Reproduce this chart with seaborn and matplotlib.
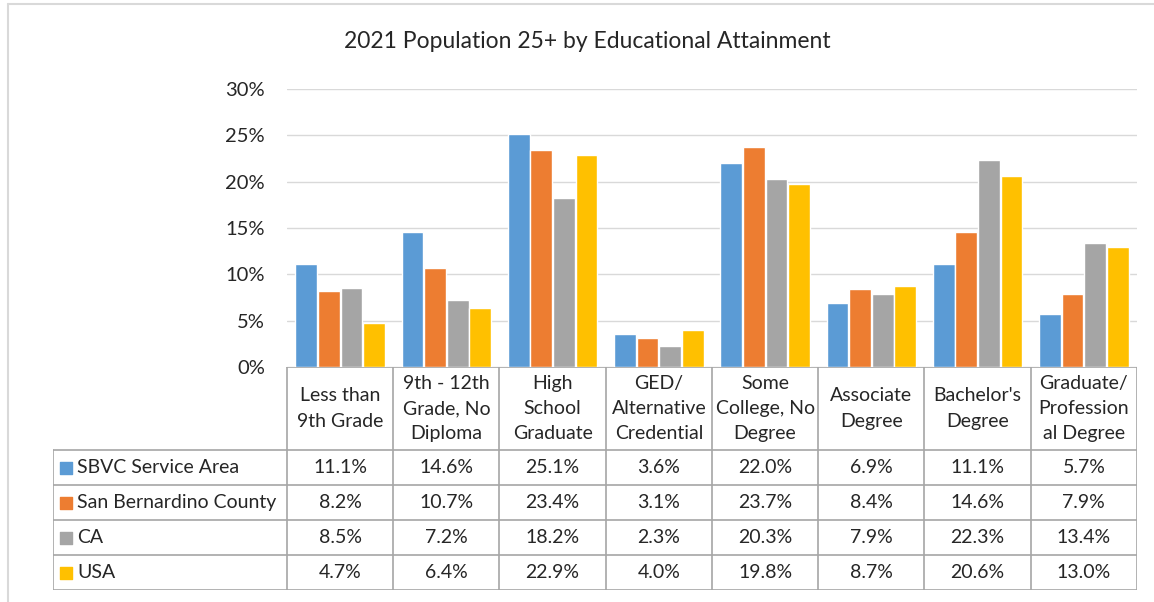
import pandas as pd
import seaborn as sns
import matplotlib.pyplot as plt
from matplotlib.ticker import PercentFormatter

categories = [
    "Less than\n9th Grade",
    "9th - 12th\nGrade, No\nDiploma",
    "High\nSchool\nGraduate",
    "GED/\nAlternative\nCredential",
    "Some\nCollege, No\nDegree",
    "Associate\nDegree",
    "Bachelor's\nDegree",
    "Graduate/\nProfession\nal Degree",
]
series = ["SBVC Service Area", "San Bernardino County", "CA", "USA"]
sbvc = [11.1, 14.6, 25.1, 3.6, 22.0, 6.9, 11.1, 5.7]
sb_county = [8.2, 10.7, 23.4, 3.1, 23.7, 8.4, 14.6, 7.9]
ca = [8.5, 7.2, 18.2, 2.3, 20.3, 7.9, 22.3, 13.4]
usa = [4.7, 6.4, 22.9, 4.0, 19.8, 8.7, 20.6, 13.0]
colors = ["#5B9BD5", "#ED7D31", "#A5A5A5", "#FFC000"]

values = [sbvc, sb_county, ca, usa]
rows = []
for s, vals in zip(series, values):
    for c, v in zip(categories, vals):
        rows.append({"category": c, "series": s, "value": v})
df = pd.DataFrame(rows)

sns.set_style("white")
plt.rcParams["font.family"] = ["Lato", "DejaVu Sans"]

W, H = 1154, 602
fig = plt.figure(figsize=(W / 100, H / 100), dpi=100)

# outer chart frame (partly cropped in the original)
fig.add_artist(plt.Line2D([8 / W, 1], [1 - 4 / H, 1 - 4 / H], color="#D9D9D9", lw=1.5))
fig.add_artist(plt.Line2D([8 / W, 8 / W], [0, 1 - 4 / H], color="#D9D9D9", lw=1.5))

# plot area
x0, x1, y_top, y_zero = 287, 1137, 89, 367
ax = fig.add_axes([x0 / W, 1 - y_zero / H, (x1 - x0) / W, (y_zero - y_top) / H])
sns.barplot(data=df, x="category", y="value", hue="series", palette=colors,
            width=0.85, gap=0.04, legend=False, ax=ax, saturation=1)
ax.set_ylim(0, 30)
ax.set_xlim(-0.5, len(categories) - 0.5)
ax.set_yticks(range(0, 31, 5))
ax.yaxis.set_major_formatter(PercentFormatter(decimals=0))
ax.yaxis.grid(True, color="#D9D9D9", lw=1)
ax.set_axisbelow(True)
ax.tick_params(axis="x", labelbottom=False, length=0)
ax.tick_params(axis="y", length=0, labelsize=14.5, pad=16)
ax.set_xlabel("")
ax.set_ylabel("")
sns.despine(ax=ax, left=True, bottom=True)
fig.text(587 / W, 1 - 42 / H, "2021 Population 25+ by Educational Attainment",
         ha="center", va="center", fontsize=16.5)

# data table below the plot
t_left, t_bottom = 53, 590
unit = (x1 - x0) / len(categories)


def px_x(px):
    return -0.5 + (px - x0) / unit


tx = fig.add_axes([t_left / W, 1 - t_bottom / H, (x1 - t_left) / W, (t_bottom - y_zero) / H])
tx.set_xlim(px_x(t_left), len(categories) - 0.5)
tx.set_ylim(0, t_bottom - y_zero)
tx.axis("off")
line_kw = dict(color="#A6A6A6", lw=1.2)
row_h = 35
top = t_bottom - y_zero
tx.plot([-0.5, len(categories) - 0.5], [top, top], **line_kw)
for k in range(5):
    y = k * row_h
    tx.plot([px_x(t_left), len(categories) - 0.5], [y, y], **line_kw)
tx.plot([px_x(t_left)] * 2, [0, 4 * row_h], **line_kw)
for i in range(len(categories) + 1):
    tx.plot([i - 0.5] * 2, [0, top], **line_kw)

for i, c in enumerate(categories):
    tx.text(i, (top + 4 * row_h) / 2, c, ha="center", va="center",
            fontsize=14, linespacing=1.6)

for r, (s, vals, col) in enumerate(zip(series, values, colors)):
    yc = (3.5 - r) * row_h
    tx.scatter([px_x(66)], [yc], marker="s", s=80, color=col, clip_on=False)
    tx.text(px_x(77), yc, s, ha="left", va="center", fontsize=14)
    for i, v in enumerate(vals):
        tx.text(i, yc, f"{v:.1f}%", ha="center", va="center", fontsize=14)

fig.savefig("out.png", dpi=100)
